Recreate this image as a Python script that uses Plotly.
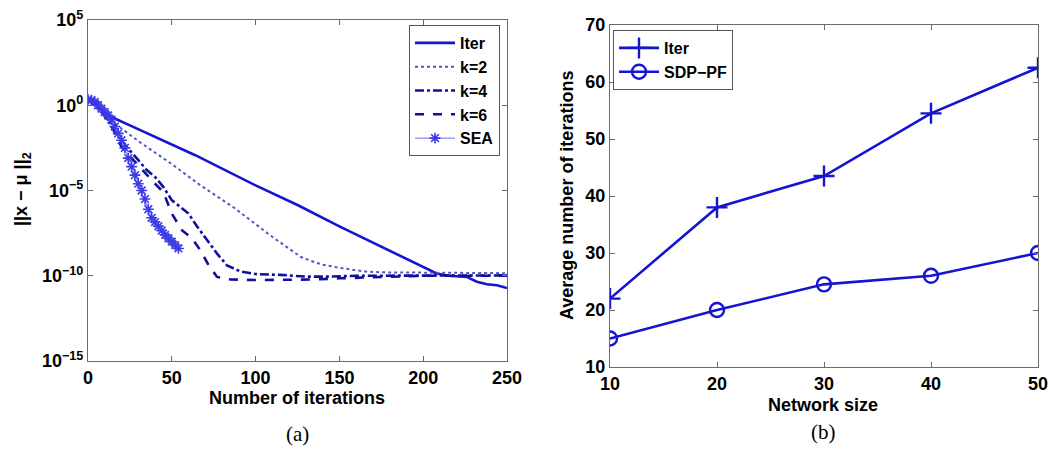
import plotly.graph_objects as go

# ---------------- data: panel (a) (values as log10 of ||x - mu||_2) ----------------
iter_x = [0, 5, 10, 14, 25, 50, 64, 100, 125, 150, 175, 190, 200, 208, 215, 226, 232, 238, 244, 250]
iter_log10 = [0.3, 0.0, -0.4, -0.69, -1.18, -2.3, -2.93, -4.7, -5.85, -7.1, -8.3, -9.0, -9.5,
              -9.87, -10.0, -10.07, -10.35, -10.5, -10.56, -10.72]

k2_x = [0, 5, 10, 16, 30, 50, 67, 87, 109, 127, 135, 140, 151, 165, 175, 200, 225, 250]
k2_log10 = [0.3, 0.0, -0.5, -1.07, -2.1, -3.45, -4.69, -6.0, -7.65, -8.9, -9.2, -9.35, -9.55,
            -9.75, -9.8, -9.83, -9.85, -9.85]

k4_x = [0, 5, 11, 17, 23, 29, 35, 40, 45, 50, 55, 60, 65, 71, 77, 83, 91, 100, 115, 130,
        145, 160, 190, 220, 250]
k4_log10 = [0.3, 0.0, -0.78, -1.6, -2.45, -3.1, -3.8, -4.2, -4.8, -5.57, -5.96, -6.35, -7.1,
            -7.9, -8.7, -9.4, -9.75, -9.9, -9.95, -10.05, -10.05, -10.0, -10.0, -9.98, -9.98]

k6_x = [0, 5, 10, 15, 20, 27, 33, 39, 45, 50, 56, 62, 67, 72, 77, 85, 100, 115, 135, 150,
        175, 200, 225, 250]
k6_log10 = [0.3, 0.0, -0.6, -1.4, -2.45, -3.2, -3.9, -4.5, -5.1, -6.35, -7.33, -7.8, -8.5,
            -9.38, -10.07, -10.22, -10.25, -10.25, -10.22, -10.15, -10.08, -10.0, -10.0, -10.0]

sea_x = [0, 2, 4, 6, 8, 10, 12, 14, 16, 18, 20, 22, 24, 26, 28, 30, 32, 34, 36, 38, 40, 42,
         44, 46, 48, 50, 52, 54]
sea_log10 = [0.35, 0.3, 0.2, 0.0, -0.2, -0.4, -0.6, -0.85, -1.25, -1.65, -2.05, -2.5, -3.1,
             -3.6, -4.1, -4.6, -5.0, -5.5, -6.1, -6.6, -6.85, -7.1, -7.35, -7.6, -7.8, -8.0,
             -8.2, -8.4]

a_tickvals = [1e-15, 1e-10, 1e-5, 1e0, 1e5]
a_ticktext = ["10<sup>\u221215</sup>", "10<sup>\u221210</sup>", "10<sup>\u22125</sup>",
              "10<sup>0</sup>", "10<sup>5</sup>"]
a_xticks = [0, 50, 100, 150, 200, 250]

# ---------------- data: panel (b) ----------------
net_size = [10, 20, 30, 40, 50]
iter_avg = [22, 38, 43.5, 54.5, 62.5]
sdp_avg = [15, 20, 24.5, 26, 30]
b_xticks = [10, 20, 30, 40, 50]
b_yticks = [10, 20, 30, 40, 50, 60, 70]

W, H = 1060, 451
BLUE = "#1414d2"
NAVY = "#10109a"
FONT = "Liberation Sans"
FS = 18
LFS = 16


def px_x(p):
    return p / W


def px_y(p):
    return 1 - p / H


def to_val(logs):
    return [10 ** v for v in logs]


fig = go.Figure()

fig.add_trace(go.Scatter(x=iter_x, y=to_val(iter_log10), mode="lines", name="Iter",
                         line=dict(color=BLUE, width=2.6), xaxis="x", yaxis="y", legend="legend"))
fig.add_trace(go.Scatter(x=k2_x, y=to_val(k2_log10), mode="lines", name="k=2",
                         line=dict(color="#5656c0", width=2, dash="dot"), xaxis="x", yaxis="y",
                         legend="legend"))
fig.add_trace(go.Scatter(x=k4_x, y=to_val(k4_log10), mode="lines", name="k=4",
                         line=dict(color=NAVY, width=2.6, dash="dashdot"), xaxis="x", yaxis="y",
                         legend="legend"))
fig.add_trace(go.Scatter(x=k6_x, y=to_val(k6_log10), mode="lines", name="k=6",
                         line=dict(color=NAVY, width=2.6, dash="dash"), xaxis="x", yaxis="y",
                         legend="legend"))
fig.add_trace(go.Scatter(x=sea_x, y=to_val(sea_log10), mode="lines+markers", name="SEA",
                         line=dict(color="#8c8cf0", width=1.2),
                         marker=dict(symbol="asterisk-open", size=9, color="#3a3ae6",
                                     line=dict(color="#3a3ae6", width=1.6)),
                         xaxis="x", yaxis="y", legend="legend"))

fig.add_trace(go.Scatter(x=net_size, y=iter_avg, mode="lines+markers", name="Iter",
                         line=dict(color=BLUE, width=2.6),
                         marker=dict(symbol="cross-thin-open", size=15,
                                     line=dict(color=BLUE, width=2.4)),
                         xaxis="x2", yaxis="y2", legend="legend2"))
fig.add_trace(go.Scatter(x=net_size, y=sdp_avg, mode="lines+markers", name="SDP\u2212PF",
                         line=dict(color=BLUE, width=2.6),
                         marker=dict(symbol="circle-open", size=14,
                                     line=dict(color=BLUE, width=2.4)),
                         xaxis="x2", yaxis="y2", legend="legend2"))

axis_common = dict(showgrid=False, zeroline=False, showline=True, linecolor="#6a6a6a",
                   linewidth=1.2, mirror="ticks", ticks="inside", ticklen=5,
                   tickcolor="#6a6a6a", tickwidth=1, automargin=False,
                   tickfont=dict(family=FONT, size=FS, color="black", weight="bold"))
title_font = dict(family=FONT, size=FS, color="black", weight="bold")
cap_font = dict(family="Liberation Serif", size=21, color="black")


def note(text, x, y, font, angle=0):
    return dict(text=text, x=px_x(x), y=px_y(y), xref="paper", yref="paper",
                xanchor="center", yanchor="middle", showarrow=False, font=font,
                textangle=angle)


fig.update_layout(
    width=W, height=H, autosize=False,
    margin=dict(l=0, r=0, t=0, b=0, pad=0),
    paper_bgcolor="white", plot_bgcolor="white",
    xaxis=dict(domain=[px_x(88), px_x(507)], range=[0, 250], tickvals=a_xticks,
               anchor="y", **axis_common),
    yaxis=dict(domain=[px_y(361), px_y(20)], type="log", range=[-15, 5],
               tickvals=a_tickvals, ticktext=a_ticktext, anchor="x", **axis_common),
    xaxis2=dict(domain=[px_x(610), px_x(1038)], range=[10, 50], tickvals=b_xticks,
                anchor="y2", **axis_common),
    yaxis2=dict(domain=[px_y(367), px_y(25)], range=[10, 70], tickvals=b_yticks,
                anchor="x2", **axis_common),
    legend=dict(x=px_x(500), y=px_y(25), xanchor="right", yanchor="top",
                bgcolor="white", bordercolor="#555555", borderwidth=1,
                font=dict(family=FONT, size=LFS, color="black", weight="bold"),
                itemwidth=40, tracegroupgap=0),
    legend2=dict(x=px_x(613), y=px_y(30), xanchor="left", yanchor="top",
                 bgcolor="white", bordercolor="#555555", borderwidth=1,
                 font=dict(family=FONT, size=LFS, color="black", weight="bold"),
                 itemwidth=40, tracegroupgap=0),
    showlegend=True,
    annotations=[
        note("Number of iterations", 297, 398, title_font),
        note("||x \u2212 \u03bc ||<sub>2</sub>", 22, 189, title_font, -90),
        note("Network size", 823, 405, title_font),
        note("Average number of iterations", 567, 196, title_font, -90),
        note("(a)", 297, 434, cap_font),
        note("(b)", 823, 432, cap_font),
    ],
)

fig.write_html("out.html")
